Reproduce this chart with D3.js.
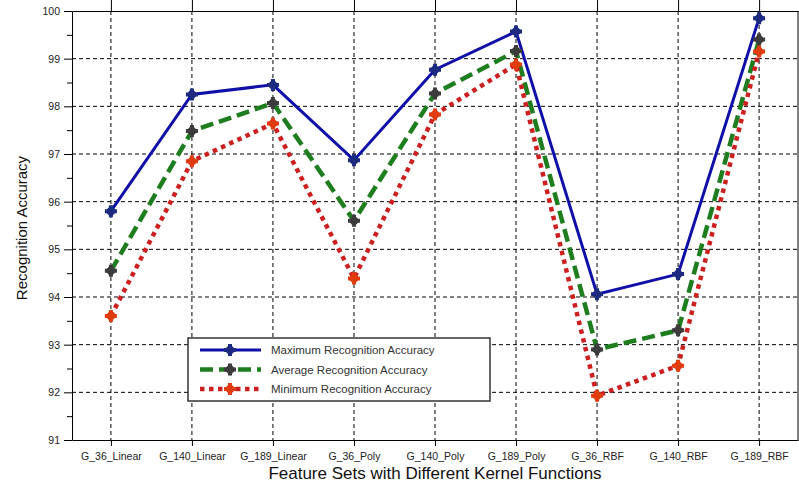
<!DOCTYPE html>
<html>
<head>
<meta charset="utf-8">
<script src="https://cdn.jsdelivr.net/npm/d3@7"></script>
<style>
  body { margin: 0; background: #fff; }
  svg { display: block; font-family: "Liberation Sans", Arial, sans-serif; }
  .grid line { stroke: #000; stroke-width: 1; stroke-dasharray: 4,3; }
  .axis path, .axis line { stroke: #000; }
  .axis text { fill: #222; }
</style>
</head>
<body>
<svg id="chart" width="799" height="488"></svg>
<script>
const categories = ["G_36_Linear", "G_140_Linear", "G_189_Linear", "G_36_Poly", "G_140_Poly",
  "G_189_Poly", "G_36_RBF", "G_140_RBF", "G_189_RBF"];
const maxAcc = [95.8, 98.25, 98.45, 96.87, 98.77, 99.57, 94.06, 94.48, 99.85];
const avgAcc = [94.55, 97.48, 98.07, 95.6, 98.27, 99.16, 92.9, 93.3, 99.4];
const minAcc = [93.6, 96.85, 97.64, 94.39, 97.83, 98.88, 91.93, 92.56, 99.15];
const yTicks = [91, 92, 93, 94, 95, 96, 97, 98, 99, 100];
const seriesNames = ["Maximum Recognition Accuracy", "Average Recognition Accuracy", "Minimum Recognition Accuracy"];

const series = [
  { name: seriesNames[0], values: maxAcc, line: "#1010a8", marker: "#1c2a80", width: 3, dash: null },
  { name: seriesNames[1], values: avgAcc, line: "#1e7d1e", marker: "#3c3c3c", width: 4.5, dash: "13,6" },
  { name: seriesNames[2], values: minAcc, line: "#cc2020", marker: "#e03c10", width: 4.5, dash: "4.5,4.5" }
];

const svg = d3.select("#chart");
const margin = { top: 11, right: 1, bottom: 48, left: 72 };
const width = 799 - margin.left - margin.right;
const height = 488 - margin.top - margin.bottom;

const x = d3.scalePoint().domain(categories).range([0, width]).padding(0.48);
const y = d3.scaleLinear().domain([91, 100]).range([height, 0]);

const g = svg.append("g").attr("transform", `translate(${margin.left},${margin.top})`);

// grid
g.append("g").attr("class", "grid")
  .selectAll("line.h").data(yTicks.slice(1, -1)).join("line")
  .attr("x1", 0).attr("x2", width).attr("y1", d => y(d)).attr("y2", d => y(d));
g.append("g").attr("class", "grid")
  .selectAll("line.v").data(categories).join("line")
  .attr("x1", d => x(d)).attr("x2", d => x(d)).attr("y1", 0).attr("y2", height);

// axes
const yAxis = g.append("g").attr("class", "axis")
  .call(d3.axisLeft(y).tickValues(yTicks).tickSize(8).tickSizeOuter(0).tickPadding(4));
yAxis.selectAll("text").style("font-size", "10.5px");
g.append("g").attr("class", "axis")
  .call(d3.axisLeft(y).tickValues(d3.range(91.5, 100, 1)).tickSize(5).tickFormat(""))
  .select(".domain").remove();

const xAxis = g.append("g").attr("class", "axis")
  .attr("transform", `translate(0,${height})`)
  .call(d3.axisBottom(x).tickSize(6).tickSizeOuter(0).tickPadding(7));
xAxis.selectAll("text").style("font-size", "10.5px");

g.append("g").attr("class", "axis")
  .call(d3.axisTop(x).tickSize(11).tickSizeOuter(0).tickFormat(""));

g.append("line").attr("x1", width).attr("x2", width).attr("y1", 0).attr("y2", height)
  .attr("stroke", "#000");

// lines
const line = d3.line().x((d, i) => x(categories[i])).y(d => y(d));
const diamond = d3.symbol().type(d3.symbolSquare).size(72);
const cross = d3.symbol().type(d3.symbolCross).size(80);

function marker(sel, color) {
  sel.append("path").attr("d", diamond).attr("transform", "rotate(45)").attr("fill", color);
  sel.append("path").attr("d", cross).attr("fill", color);
}

series.forEach(s => {
  g.append("path")
    .datum(s.values)
    .attr("fill", "none")
    .attr("stroke", s.line)
    .attr("stroke-width", s.width)
    .attr("stroke-dasharray", s.dash)
    .attr("d", line);
});
series.forEach(s => {
  const m = g.append("g").selectAll("g").data(s.values).join("g")
    .attr("transform", (d, i) => `translate(${x(categories[i])},${y(d)})`);
  marker(m, s.marker);
});

// legend
const lg = svg.append("g").attr("transform", "translate(188,338)");
lg.append("rect").attr("width", 302).attr("height", 63)
  .attr("fill", "#fff").attr("stroke", "#333").attr("stroke-width", 1.5);
series.forEach((s, i) => {
  const row = lg.append("g").attr("transform", `translate(0,${12 + i * 19.5})`);
  row.append("line").attr("x1", 12).attr("x2", 73)
    .attr("stroke", s.line).attr("stroke-width", s.width)
    .attr("stroke-dasharray", s.dash);
  marker(row.append("g").attr("transform", "translate(42,0)"), s.marker);
  row.append("text").attr("x", 83).attr("y", 4)
    .style("font-size", "11.5px").attr("fill", "#333").text(s.name);
});

// titles
svg.append("text")
  .attr("x", margin.left + width / 2).attr("y", 479)
  .attr("text-anchor", "middle").style("font-size", "17px").attr("fill", "#111")
  .text("Feature Sets with Different Kernel Functions");
svg.append("text")
  .attr("transform", `translate(27,${228}) rotate(-90)`)
  .attr("text-anchor", "middle").style("font-size", "15px").attr("fill", "#111")
  .text("Recognition Accuracy");
</script>
</body>
</html>
